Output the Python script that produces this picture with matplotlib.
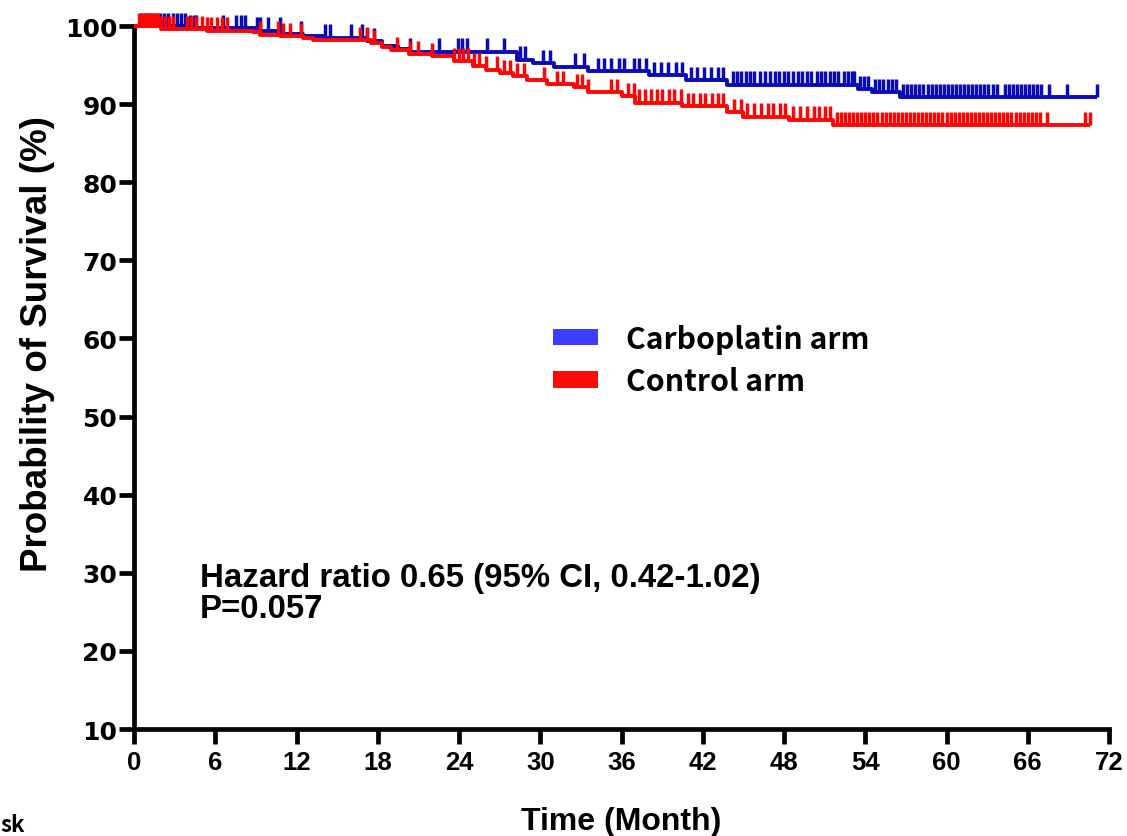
import numpy as np
import matplotlib
matplotlib.use("Agg")
import matplotlib.pyplot as plt
from matplotlib.patches import Patch

# ---------------- data ----------------
blue_times = [0, 4.0, 9.1, 10.9, 12.5, 14.0, 17.2, 18.3, 19.5, 20.4, 28.3, 29.5, 31.0, 33.5, 38.0, 40.8, 43.8, 53.5, 54.5, 56.6]
blue_surv = [100, 99.7, 99.4, 99.0, 98.7, 98.5, 98.1, 97.5, 97.1, 96.7, 95.7, 95.2, 94.8, 94.2, 93.7, 93.1, 92.5, 91.9, 91.5, 90.9]
blue_end = 71.1

red_times = [0, 2.0, 5.4, 8.8, 9.3, 10.8, 12.5, 13.2, 17.5, 18.3, 19.0, 20.3, 22.0, 23.6, 25.0, 26.0, 27.0, 28.0, 29.0, 30.5, 32.5, 33.5, 36.0, 37.0, 40.5, 43.8, 45.0, 48.4, 51.6]
red_surv = [100, 99.6, 99.4, 99.2, 98.9, 98.7, 98.4, 98.2, 97.8, 97.3, 96.9, 96.4, 96.1, 95.5, 94.9, 94.4, 94.0, 93.6, 93.1, 92.6, 92.2, 91.5, 91.0, 90.2, 89.7, 89.0, 88.4, 88.0, 87.3]
red_end = 70.6

blue_censor = [0.5, 0.8, 1.0, 1.3, 1.6, 1.9, 2.2, 2.5, 2.9, 3.2, 3.5, 3.8, 4.1, 4.4, 4.6, 6.6, 7.5, 7.9, 8.2, 9.1, 9.3, 9.9, 10.8,
               12.3, 14.1, 14.5, 16.0, 16.8, 17.2, 17.7, 20.4, 22.5, 23.9, 24.2, 24.6, 26.1, 27.3, 28.5, 28.9, 30.2, 30.7,
               32.6, 33.2, 34.3, 34.7, 35.2, 35.8, 36.2, 36.9, 37.3, 37.8, 38.4, 38.9, 39.4, 40.0, 40.5, 41.1, 41.6, 42.1,
               42.6, 43.1, 43.5, 44.2, 44.5, 44.8, 45.2, 45.5, 45.8, 46.2, 46.6, 47.0, 47.3, 47.6, 48.0, 48.3, 48.7, 49.0,
               49.3, 49.7, 50.0, 50.4, 50.7, 51.0, 51.4, 51.7, 52.0, 52.4, 52.7, 53.0, 53.2, 53.6, 53.9, 54.2, 54.7, 55.0,
               55.3, 55.7, 56.0, 56.3, 56.8, 57.1, 57.4, 57.7, 58.0, 58.3, 58.6, 58.9, 59.2, 59.5, 59.8, 60.1, 60.4, 60.7,
               61.0, 61.3, 61.6, 61.9, 62.2, 62.5, 62.8, 63.1, 63.4, 63.7, 64.3, 64.6, 64.9, 65.2, 65.5, 65.8, 66.1, 66.4,
               66.7, 67.0, 67.6, 68.9, 71.1]
red_censor = [0.4, 0.6, 0.8, 1.0, 1.2, 1.4, 1.6, 1.8, 2.0, 2.3, 2.6, 2.9, 3.9, 4.2, 4.6, 5.0, 5.4, 5.7, 6.1, 6.5, 6.9, 9.3,
              10.6, 11.0, 11.5, 12.3, 16.7, 17.2, 17.7, 19.4, 20.4, 21.0, 22.0, 23.6, 24.0, 24.3, 24.7, 25.1, 25.5, 26.0,
              26.8, 27.3, 27.8, 28.3, 28.8, 30.3, 31.2, 31.7, 32.7, 33.1, 33.5, 35.2, 35.7, 36.5, 36.9, 37.3, 37.7, 38.2,
              38.6, 39.0, 39.5, 39.9, 40.4, 40.9, 41.3, 41.8, 42.2, 42.7, 43.1, 43.5, 44.3, 44.8, 45.3, 45.8, 46.3, 46.8,
              47.2, 47.7, 48.1, 48.7, 49.2, 49.7, 50.2, 50.6, 51.0, 51.4, 51.9, 52.2, 52.5, 52.8, 53.1, 53.4, 53.7, 54.0,
              54.3, 54.6, 54.9, 55.2, 55.5, 55.8, 56.1, 56.4, 56.7, 57.0, 57.3, 57.6, 57.9, 58.2, 58.5, 58.8, 59.1, 59.4,
              59.7, 60.0, 60.3, 60.6, 60.9, 61.2, 61.5, 61.8, 62.1, 62.4, 62.7, 63.0, 63.3, 63.6, 63.9, 64.2, 64.5, 64.8,
              65.1, 65.4, 65.7, 66.0, 66.3, 66.6, 66.9, 67.4, 70.2, 70.6]

x_ticks = [0, 6, 12, 18, 24, 30, 36, 42, 48, 54, 60, 66, 72]
y_ticks = [10, 20, 30, 40, 50, 60, 70, 80, 90, 100]
labels = ["Carboplatin arm", "Control arm"]
hr_text = "Hazard ratio 0.65 (95% CI, 0.42-1.02)"
p_text = "P=0.057"

# ---------------- styling ----------------
W, H = 1127, 837
fig = plt.figure(figsize=(W / 100, H / 100), dpi=100)
ax = fig.add_axes([134 / W, 1 - 730 / H, (1109 - 134) / W, (730 - 27) / H])

curve_blue = "#0a0ab8"
curve_red = "#ff0505"
leg_blue = "#3c3cff"
leg_red = "#ff0a0a"
tick_h = 1.7


def draw_arm(times, surv, end, censor, color, z):
    t = np.array(times + [end])
    s = np.array(surv + [surv[-1]])
    ax.step(t, s, where="post", color=color, lw=2.8, clip_on=False, zorder=z, solid_capstyle="butt")
    c = np.array(censor)
    idx = np.searchsorted(np.array(times), c, side="right") - 1
    cs = np.array(surv)[idx]
    ax.vlines(c, cs, cs + tick_h, color=color, lw=2.5, clip_on=False, zorder=z)


draw_arm(blue_times, blue_surv, blue_end, blue_censor, curve_blue, 3)
draw_arm(red_times, red_surv, red_end, red_censor, curve_red, 4)

ax.set_xlim(0, 72)
ax.set_ylim(10, 100)
ax.set_xticks(x_ticks)
ax.set_yticks(y_ticks)
for sp in ["top", "right"]:
    ax.spines[sp].set_visible(False)
for sp in ["left", "bottom"]:
    ax.spines[sp].set_linewidth(3.4)

ax.tick_params(axis="both", width=3.4, length=11, color="black")
ax.tick_params(axis="y", pad=1)
ax.tick_params(axis="x", pad=4)
for lab in ax.get_yticklabels():
    lab.set_fontfamily("DejaVu Sans")
    lab.set_fontweight("bold")
    lab.set_fontsize(18)
for lab in ax.get_xticklabels():
    lab.set_fontfamily("Liberation Sans")
    lab.set_fontweight("bold")
    lab.set_fontsize(18.5)

ax.set_ylabel("Probability of Survival (%)", fontsize=26.5, fontweight="bold", family="Liberation Sans")
ax.yaxis.set_label_coords(-79 / (1109 - 134), (730 - 344) / (730 - 27))
fig.text(621 / W, 1 - 822 / H, "Time (Month)", ha="center", va="center",
         fontsize=23, fontweight="bold", family="Liberation Sans")

fig.text(200 / W, 1 - 578 / H, hr_text, ha="left", va="center", fontsize=23.8,
         fontweight="bold", family="Liberation Sans")
fig.text(200 / W, 1 - 610 / H, p_text, ha="left", va="center", fontsize=23.8,
         fontweight="bold", family="Liberation Sans")

handles = [Patch(facecolor=leg_blue, edgecolor="none"), Patch(facecolor=leg_red, edgecolor="none")]
fig.legend(handles, labels, loc="center left", bbox_to_anchor=(553 / W, 1 - 361 / H),
           frameon=False, borderpad=0, borderaxespad=0, handlelength=1.5, handleheight=0.48,
           handletextpad=0.92, labelspacing=0.42,
           prop={"family": "Noto Sans CJK KR", "weight": "bold", "size": 21.7})

fig.text(0.0, 1 - 826 / H, "sk", ha="left", va="center", fontsize=16, fontweight="bold",
         family="Noto Sans CJK KR")

fig.savefig("out.png", dpi=100, facecolor="white")
